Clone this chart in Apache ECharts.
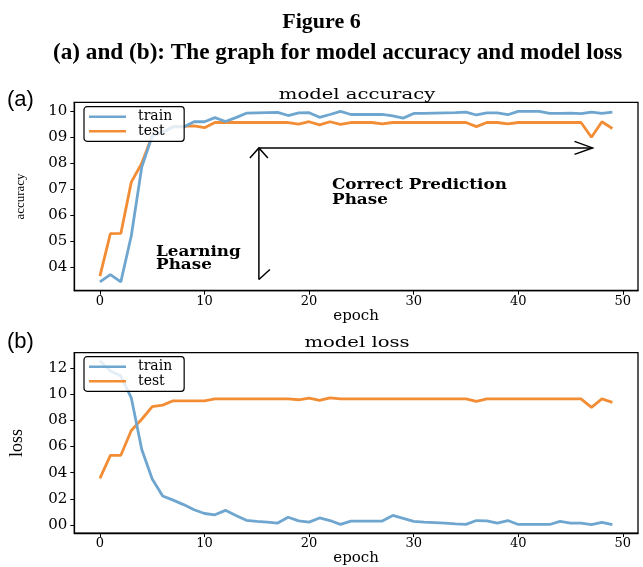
<!DOCTYPE html>
<html>
<head>
<meta charset="utf-8">
<script src="https://cdn.jsdelivr.net/npm/echarts@6/dist/echarts.min.js"></script>
<style>
html,body{margin:0;padding:0;background:#fff;}
#chart{width:643px;height:567px;}
</style>
</head>
<body>
<div id="chart"></div>
<script>
// ---- data ----
const epochs = [0,1,2,3,4,5,6,7,8,9,10,11,12,13,14,15,16,17,18,19,20,21,22,23,24,25,26,27,28,29,30,31,32,33,34,35,36,37,38,39,40,41,42,43,44,45,46,47,48,49];
const accTrain = [0.342,0.370,0.342,0.520,0.785,0.905,0.920,0.940,0.940,0.960,0.960,0.976,0.961,0.976,0.993,0.994,0.995,0.996,0.984,0.994,0.995,0.977,0.988,1.000,0.988,0.988,0.988,0.988,0.983,0.974,0.992,0.992,0.993,0.994,0.995,0.997,0.986,0.994,0.994,0.987,1.000,1.000,1.000,0.992,0.992,0.993,0.991,0.997,0.992,0.997];
const accTest  = [0.364,0.528,0.529,0.727,0.800,0.906,0.919,0.942,0.942,0.944,0.937,0.957,0.957,0.957,0.957,0.957,0.957,0.957,0.957,0.951,0.960,0.948,0.960,0.950,0.957,0.957,0.957,0.952,0.957,0.957,0.957,0.957,0.957,0.957,0.957,0.957,0.941,0.957,0.957,0.952,0.957,0.957,0.957,0.957,0.957,0.957,0.957,0.900,0.960,0.934];
const lossTrain = [1.256,1.178,1.139,0.973,0.577,0.352,0.222,0.190,0.156,0.117,0.088,0.078,0.112,0.072,0.036,0.028,0.022,0.015,0.059,0.032,0.022,0.054,0.034,0.005,0.030,0.030,0.030,0.030,0.073,0.050,0.027,0.022,0.018,0.014,0.009,0.005,0.034,0.032,0.014,0.034,0.004,0.004,0.004,0.004,0.028,0.014,0.014,0.003,0.020,0.002];
const lossTest  = [0.357,0.533,0.533,0.723,0.809,0.905,0.917,0.950,0.950,0.950,0.950,0.965,0.965,0.965,0.965,0.965,0.965,0.965,0.965,0.958,0.970,0.953,0.972,0.965,0.965,0.965,0.965,0.965,0.965,0.965,0.965,0.965,0.965,0.965,0.965,0.965,0.946,0.965,0.965,0.965,0.965,0.965,0.965,0.965,0.965,0.965,0.965,0.900,0.965,0.938];
const epochTicks = [0,10,20,30,40,50];
const accTicks = [0.4,0.5,0.6,0.7,0.8,0.9,1.0];
const accTickLabels = ['04','05','06','07','08','09','10'];
const lossTicks = [0,0.2,0.4,0.6,0.8,1.0,1.2];
const lossTickLabels = ['00','02','04','06','08','10','12'];
// annotation arrow anchors (epoch, accuracy)
const arrowCorner = [15.2, 0.859];
const arrowEnd = [47.1, 0.859];
const arrowBottom = [15.2, 0.351];

const BLUE = '#6fa6d0', ORANGE = '#f28d35';
const pairs = (ys) => epochs.map((e, i) => [e, ys[i]]);

function xAxisCfg(gi){
  return {
    type:'value', gridIndex:gi, min:-2.45, max:51.45,
    name:'epoch', nameLocation:'middle', nameGap:13,
    nameTextStyle:{fontFamily:'DejaVu Serif', fontSize:15, color:'#000'},
    axisLine:{show:true, onZero:false, lineStyle:{color:'#000', width:1.3}},
    axisTick:{show:true, length:4, customValues:epochTicks, lineStyle:{color:'#000'}},
    axisLabel:{customValues:epochTicks, margin:4, fontFamily:'DejaVu Serif', fontSize:13, color:'#000'},
    splitLine:{show:false}
  };
}
function yAxisCfg(gi, min, max, ticks, labels, name, nameFont, nameSize, gap){
  return {
    type:'value', gridIndex:gi, min:min, max:max,
    name:name, nameLocation:'middle', nameGap:gap,
    nameTextStyle:{fontFamily:nameFont, fontSize:nameSize, color:'#000'},
    axisLine:{show:true, onZero:false, lineStyle:{color:'#000', width:1.3}},
    axisTick:{show:true, length:4, customValues:ticks, lineStyle:{color:'#000'}},
    axisLabel:{customValues:ticks, margin:7, fontFamily:'DejaVu Serif', fontSize:15, color:'#000',
      formatter:(v)=>{ const i = ticks.findIndex(t=>Math.abs(t-v)<1e-6); return i>=0 ? labels[i] : ''; }},
    splitLine:{show:false}
  };
}
function legendCfg(top){
  return {
    left:84, top:top, orient:'vertical', data:['train','test'],
    icon:'rect', itemWidth:37, itemHeight:2.6, itemGap:0.6,
    padding:[3,12,3,5], borderColor:'#000', borderWidth:1.2, borderRadius:3,
    backgroundColor:'rgba(255,255,255,0.8)',
    textStyle:{fontFamily:'DejaVu Serif', fontSize:14, lineHeight:12, color:'#000', padding:[0,0,0,7]},
    selectedMode:false
  };
}
function lineSeries(name, xi, data, color, z){
  return {type:'line', name:name, xAxisIndex:xi, yAxisIndex:xi, data:data, showSymbol:false,
    lineStyle:{color:color, width:2.8}, itemStyle:{color:color}, z:z};
}

const chart = echarts.init(document.getElementById('chart'));
const titleFont = {fontFamily:'Liberation Serif', fontWeight:'bold', fontSize:22, color:'#000'};
const option = {
  animation:false,
  title:[
    {text:'Figure 6', left:'center', top:6, textStyle:titleFont},
    {text:'(a) and (b): The graph for model accuracy and model loss', left:48, top:37,
      textStyle:Object.assign({}, titleFont, {fontSize:23.2})}
  ],
  grid:[
    {left:74.3, right:5, top:102.3, height:188.4, show:true, borderColor:'#000', borderWidth:1.3, containLabel:false},
    {left:74.3, right:5, top:352.7, height:188, show:true, borderColor:'#000', borderWidth:1.3, containLabel:false}
  ],
  xAxis:[xAxisCfg(0), xAxisCfg(1)],
  yAxis:[
    yAxisCfg(0, 0.308, 1.035, accTicks, accTickLabels, 'accuracy', 'Liberation Serif', 13, 47),
    yAxisCfg(1, -0.062, 1.318, lossTicks, lossTickLabels, 'loss', 'Liberation Serif', 18, 48)
  ],
  legend:[legendCfg(106.7), legendCfg(356.7)],
  series:[
    lineSeries('train', 0, pairs(accTrain), BLUE, 3),
    lineSeries('test', 0, pairs(accTest), ORANGE, 2),
    lineSeries('train', 1, pairs(lossTrain), BLUE, 3),
    lineSeries('test', 1, pairs(lossTest), ORANGE, 2)
  ]
};
chart.setOption(option);

// annotations
const toPx = (pt) => chart.convertToPixel({xAxisIndex:0, yAxisIndex:0}, pt);
const c = toPx(arrowCorner), e = toPx(arrowEnd), b = toPx(arrowBottom);
const stroke = {stroke:'#000', lineWidth:1.5, fill:null};
const txt = (text, x, y, opts) => Object.assign({type:'text', x:x, y:y, style:Object.assign({text:text, fill:'#000', verticalAlign:'middle'}, opts.style)}, opts.el || {});
chart.setOption({
  graphic:[
    {type:'polyline', shape:{points:[[c[0], c[1]],[b[0], b[1]]]}, style:stroke},
    {type:'polyline', shape:{points:[[c[0], c[1]],[e[0], e[1]]]}, style:stroke},
    {type:'polyline', shape:{points:[[c[0]-9, c[1]+10],[c[0], c[1]],[c[0]+9, c[1]+10]]}, style:stroke},
    {type:'polyline', shape:{points:[[e[0]-18, e[1]-6.5],[e[0], e[1]],[e[0]-18, e[1]+6.5]]}, style:stroke},
    {type:'polyline', shape:{points:[[b[0], b[1]],[b[0]+11, b[1]-10]]}, style:stroke},
    txt('(a)', 7, 100, {style:{font:'22px "Liberation Sans"'}}),
    txt('(b)', 7, 342, {style:{font:'22px "Liberation Sans"'}}),
    txt('model accuracy', 357, 95, {style:{font:'14px "DejaVu Serif"', align:'center'}, el:{scaleX:1.4}}),
    txt('model loss', 357, 343, {style:{font:'14px "DejaVu Serif"', align:'center'}, el:{scaleX:1.4}}),
    txt('Correct Prediction', 332, 185, {style:{font:'bold 14px "DejaVu Serif"'}, el:{scaleX:1.2}}),
    txt('Phase', 332, 200, {style:{font:'bold 14px "DejaVu Serif"'}, el:{scaleX:1.2}}),
    txt('Learning', 156, 252, {style:{font:'bold 14px "DejaVu Serif"'}, el:{scaleX:1.2}}),
    txt('Phase', 156, 265, {style:{font:'bold 14px "DejaVu Serif"'}, el:{scaleX:1.2}})
  ]
});
</script>
</body>
</html>
